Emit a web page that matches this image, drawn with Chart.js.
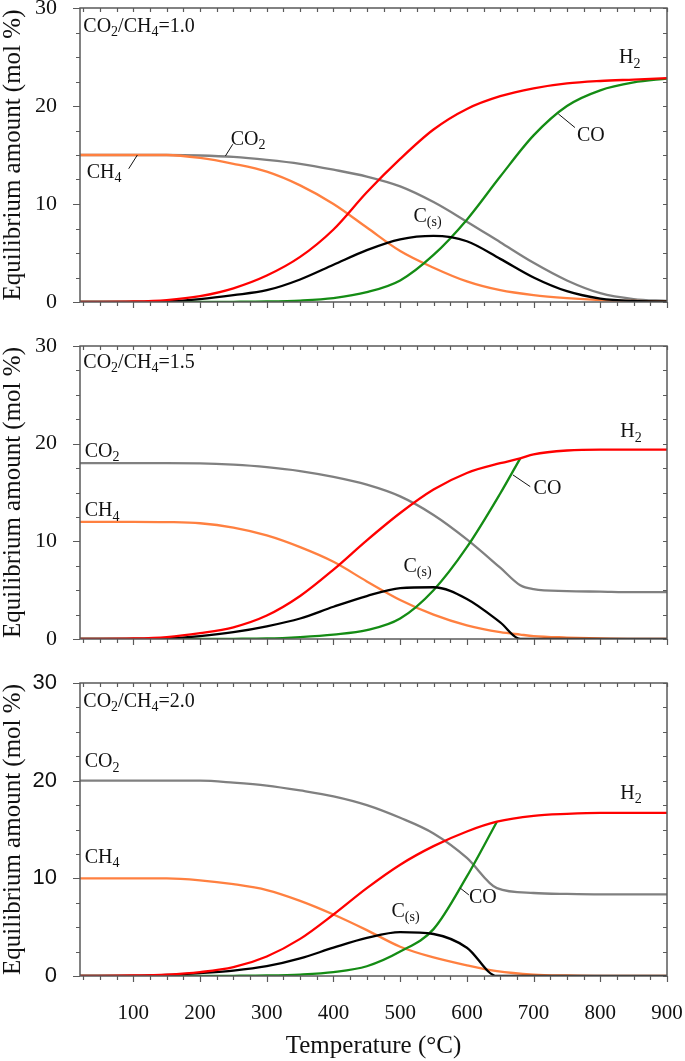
<!DOCTYPE html>
<html>
<head>
<meta charset="utf-8">
<script src="https://cdn.jsdelivr.net/npm/chart.js@4.4.1/dist/chart.umd.min.js"></script>
<style>
  body { margin: 0; background: #fff; }
  canvas { position: absolute; left: 0; }
</style>
</head>
<body>
<canvas id="c1" width="685" height="320" style="top:0px"></canvas>
<canvas id="c2" width="685" height="335" style="top:320px"></canvas>
<canvas id="c3" width="685" height="406" style="top:655px"></canvas>
<script>
// Temperature (°C) and equilibrium amounts (mol %).
// CO is left empty after it meets H2: the two curves coincide there and H2 is drawn on top.
const temp1 = [20, 100, 150, 200, 250, 300, 350, 400, 450, 500, 550, 600, 650, 700, 750, 800, 850, 900];
const h2_1  = [0, 0.05, 0.2, 0.6, 1.4, 2.7, 4.6, 7.4, 11.2, 14.6, 17.6, 19.7, 21.0, 21.8, 22.3, 22.55, 22.7, 22.85];
const co_1  = [0, 0, 0, 0.01, 0.02, 0.05, 0.15, 0.4, 1.0, 2.2, 4.8, 8.4, 12.8, 17.0, 20.0, 21.6, 22.4, 22.8];
const co2_1 = [15, 15, 15, 14.95, 14.8, 14.5, 14.1, 13.5, 12.8, 11.8, 10.2, 8.2, 6.1, 4.0, 2.2, 0.9, 0.3, 0.1];
const ch4_1 = [15, 15, 15, 14.7, 14.1, 13.3, 11.9, 10.0, 7.6, 5.2, 3.5, 2.1, 1.2, 0.7, 0.4, 0.2, 0.1, 0.05];
const cs_1  = [0, 0, 0.05, 0.3, 0.7, 1.2, 2.3, 3.8, 5.3, 6.4, 6.75, 6.2, 4.4, 2.5, 1.1, 0.35, 0.1, 0.05];

const temp2 = [20, 100, 150, 200, 250, 300, 350, 400, 450, 500, 550, 600, 650, 680, 700, 750, 800, 850, 900];
const h2_2  = [0, 0.05, 0.2, 0.6, 1.2, 2.4, 4.4, 7.1, 10.1, 12.9, 15.3, 17.0, 18.0, 18.5, 18.9, 19.3, 19.4, 19.4, 19.4];
const co_2  = [0, 0, 0, 0.01, 0.02, 0.05, 0.2, 0.45, 0.9, 2.1, 5.0, 9.4, 14.9, 18.5, null, null, null, null, null];
const co2_2 = [18, 18, 18, 17.98, 17.85, 17.6, 17.2, 16.6, 15.8, 14.6, 12.7, 10.2, 7.3, 5.5, 5.1, 4.9, 4.85, 4.8, 4.8];
const ch4_2 = [12, 12, 11.97, 11.85, 11.4, 10.6, 9.4, 7.9, 5.9, 4.0, 2.5, 1.4, 0.7, 0.45, 0.3, 0.15, 0.05, 0, 0];
const cs_2  = [0, 0, 0.05, 0.3, 0.7, 1.3, 2.1, 3.3, 4.4, 5.2, 5.3, 4.1, 1.7, 0, 0, 0, 0, 0, 0];

const temp3 = [20, 100, 150, 200, 250, 300, 350, 400, 450, 500, 550, 600, 645, 700, 750, 800, 850, 900];
const h2_3  = [0, 0.05, 0.15, 0.4, 0.9, 2.0, 3.8, 6.3, 9.0, 11.4, 13.3, 14.8, 15.8, 16.4, 16.6, 16.7, 16.7, 16.7];
const co_3  = [0, 0, 0, 0.01, 0.02, 0.05, 0.15, 0.4, 1.0, 2.5, 4.8, 10.2, 15.8, null, null, null, null, null];
const co2_3 = [20, 20, 20, 20, 19.8, 19.5, 19.0, 18.4, 17.5, 16.2, 14.6, 12.1, 9.0, 8.5, 8.4, 8.35, 8.35, 8.35];
const ch4_3 = [10, 10, 10, 9.8, 9.4, 8.8, 7.7, 6.3, 4.7, 3.0, 1.9, 1.1, 0.5, 0.15, 0.05, 0, 0, 0];
const cs_3  = [0, 0, 0.1, 0.3, 0.55, 1.0, 1.8, 2.9, 3.9, 4.5, 4.3, 2.9, 0, 0, 0, 0, 0, 0];

const xTickValues = [100, 200, 300, 400, 500, 600, 700, 800, 900];
const yTickValues = [0, 10, 20, 30];

const colors = { H2: '#ff0000', Cs: '#000000', CO: '#148c14', CO2: '#808080', CH4: '#ff8040' };
const SERIF = '"Liberation Serif", "Times New Roman", serif';
const SANS = '"Liberation Sans", Arial, sans-serif';

// draw text with "_x" / "_{xx}" as subscripts
function drawRich(ctx, str, x, y, size) {
  const re = /_\{([^}]*)\}|_(.)|([^_]+)/g;
  let m;
  ctx.textBaseline = 'middle';
  ctx.textAlign = 'left';
  while ((m = re.exec(str))) {
    if (m[3]) {
      ctx.font = size + 'px ' + SERIF;
      ctx.fillText(m[3], x, y);
      x += ctx.measureText(m[3]).width;
    } else {
      const t = m[1] || m[2];
      ctx.font = Math.round(size * 0.68) + 'px ' + SERIF;
      ctx.fillText(t, x, y + size * 0.3);
      x += ctx.measureText(t).width;
    }
  }
}

// frame, inward/outward ticks and curve labels
const framePlugin = {
  id: 'frame',
  afterDatasetsDraw(chart, args, opts) {
    const ctx = chart.ctx;
    const a = chart.chartArea;
    const xs = chart.scales.x, ys = chart.scales.y;
    ctx.save();
    ctx.strokeStyle = '#5a5a5a';
    ctx.lineWidth = 1.5;
    ctx.strokeRect(a.left, a.top, a.right - a.left, a.bottom - a.top);

    ctx.lineWidth = 1.2;
    ctx.beginPath();
    for (let v = 25; v <= 900; v += 25) {
      if (v < xs.min) continue;
      const px = Math.round(xs.getPixelForValue(v)) + 0.5;
      const major = v % 100 === 0;
      ctx.moveTo(px, a.bottom); ctx.lineTo(px, a.bottom + (major ? 6 : 4));
      ctx.moveTo(px, a.top); ctx.lineTo(px, a.top + 4);
    }
    for (let v = 0; v <= 30; v += 2.5) {
      const py = Math.round(ys.getPixelForValue(v)) + 0.5;
      const major = v % 10 === 0;
      ctx.moveTo(a.left, py); ctx.lineTo(a.left - (major ? 7 : 4), py);
      ctx.moveTo(a.right, py); ctx.lineTo(a.right - 4, py);
    }
    ctx.stroke();

    ctx.fillStyle = '#111';
    ctx.strokeStyle = '#111';
    ctx.lineWidth = 1;
    opts.notes.forEach(n => {
      if (n.lead) {
        ctx.beginPath();
        ctx.moveTo(xs.getPixelForValue(n.lead[0][0]), ys.getPixelForValue(n.lead[0][1]));
        ctx.lineTo(xs.getPixelForValue(n.lead[1][0]), ys.getPixelForValue(n.lead[1][1]));
        ctx.stroke();
      }
      drawRich(ctx, n.text, xs.getPixelForValue(n.x), ys.getPixelForValue(n.y), 20);
    });
    ctx.restore();
  }
};

const panels = [
  { id: 'c1', top: 8, xh: 18, temp: temp1, h2: h2_1, co: co_1, co2: co2_1, ch4: ch4_1, cs: cs_1,
    showX: false, tickFont: SERIF,
    notes: [
      { text: 'CO_2/CH_4=1.0', x: 25, y: 28.1 },
      { text: 'CO_2', x: 246, y: 16.6, lead: [[238, 14.9], [249, 16.1]] },
      { text: 'CH_4', x: 30, y: 13.2, lead: [[93, 13.6], [106, 15.0]] },
      { text: 'H_2', x: 828, y: 24.9 },
      { text: 'CO', x: 765, y: 17.0, lead: [[737, 19.2], [762, 17.8]] },
      { text: 'C_{(s)}', x: 520, y: 8.7 }
    ] },
  { id: 'c2', top: 26, xh: 16, temp: temp2, h2: h2_2, co: co_2, co2: co2_2, ch4: ch4_2, cs: cs_2,
    showX: false, tickFont: SERIF,
    notes: [
      { text: 'CO_2/CH_4=1.5', x: 25, y: 28.3 },
      { text: 'CO_2', x: 27, y: 19.2 },
      { text: 'CH_4', x: 27, y: 13.1 },
      { text: 'H_2', x: 830, y: 21.2 },
      { text: 'CO', x: 700, y: 15.4, lead: [[669, 16.8], [695, 15.6]] },
      { text: 'C_{(s)}', x: 505, y: 7.4 }
    ] },
  { id: 'c3', top: 28, xh: 85, temp: temp3, h2: h2_3, co: co_3, co2: co2_3, ch4: ch4_3, cs: cs_3,
    showX: true, tickFont: SANS,
    notes: [
      { text: 'CO_2/CH_4=2.0', x: 25, y: 28.1 },
      { text: 'CO_2', x: 27, y: 21.9 },
      { text: 'CH_4', x: 27, y: 12.1 },
      { text: 'H_2', x: 830, y: 18.7 },
      { text: 'CO', x: 603, y: 8.0, lead: [[590, 9.0], [603, 8.3]] },
      { text: 'C_{(s)}', x: 487, y: 6.6 }
    ] }
];

function series(temp, vals, color) {
  return {
    data: temp.map((t, i) => ({ x: t, y: vals[i] })),
    borderColor: color,
    borderWidth: 2.3,
    pointRadius: 0,
    fill: false,
    cubicInterpolationMode: 'monotone'
  };
}

panels.forEach(p => {
  new Chart(document.getElementById(p.id), {
    type: 'line',
    data: {
      // first dataset is drawn on top
      datasets: [
        series(p.temp, p.h2, colors.H2),
        series(p.temp, p.cs, colors.Cs),
        series(p.temp, p.co, colors.CO),
        series(p.temp, p.ch4, colors.CH4),
        series(p.temp, p.co2, colors.CO2)
      ]
    },
    options: {
      responsive: false,
      animation: false,
      layout: { autoPadding: false, padding: { top: p.top, right: 18, left: 0, bottom: 0 } },
      plugins: { legend: { display: false }, tooltip: { enabled: false }, frame: { notes: p.notes } },
      scales: {
        x: {
          type: 'linear', min: 20, max: 900,
          afterBuildTicks: s => { s.ticks = xTickValues.map(v => ({ value: v })); },
          afterFit: s => { s.height = p.xh; s.paddingLeft = 0; s.paddingRight = 0; },
          grid: { display: false },
          border: { display: false },
          ticks: { display: p.showX, padding: 17, color: '#111', font: { family: SERIF, size: 21 } },
          title: {
            display: p.showX, text: 'Temperature (°C)', color: '#111',
            font: { family: SERIF, size: 25, lineHeight: 1.0 }, padding: { top: 0, bottom: 2 }
          }
        },
        y: {
          min: 0, max: 30,
          afterBuildTicks: s => { s.ticks = yTickValues.map(v => ({ value: v })); },
          afterFit: s => { s.width = 80; s.paddingTop = 0; s.paddingBottom = 0; },
          grid: { display: false },
          border: { display: false },
          ticks: { padding: 15, color: '#111', font: { family: p.tickFont, size: 22 } },
          title: {
            display: true, text: 'Equilibrium amount (mol %)', color: '#111',
            font: { family: SERIF, size: 25, lineHeight: 1.0 }, padding: { top: 1, bottom: 0 }
          }
        }
      }
    },
    plugins: [framePlugin]
  });
});
</script>
</body>
</html>
